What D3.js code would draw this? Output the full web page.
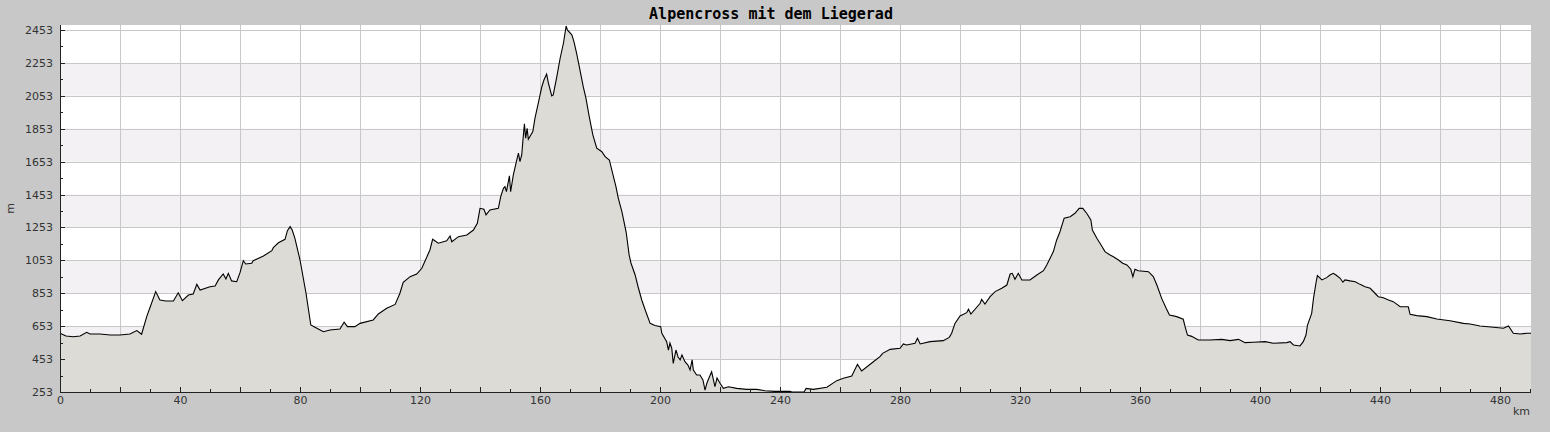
<!DOCTYPE html>
<html>
<head>
<meta charset="utf-8">
<script src="https://cdn.jsdelivr.net/npm/d3@7"></script>
<style>
html,body{margin:0;padding:0;background:#c8c8c8;}
svg{display:block;}
</style>
</head>
<body>
<svg id="chart" width="1550" height="432"></svg>
<script>
const title = "Alpencross mit dem Liegerad";
const xAxisLabel = "km";
const yAxisLabel = "m";

const distanceKm = [0,2,4.4,6.7,8.9,10,13.3,16.7,20,23.3,25.6,27.2,28.9,30.3,31.9,33.3,35.3,37.8,39.4,40.8,42.8,44.4,45.6,46.7,50,51.7,52.8,54.4,55.3,56.1,57.2,58.9,60,61.1,61.9,63.9,64.4,67.8,70.6,71.1,72.8,75,75.8,76.7,77.4,78.3,80,82,83.6,85.6,87.8,90,93.3,94.7,95.8,98.3,100,104.4,106.1,108.9,111.7,113.3,114.4,116.7,118.9,120.6,123.3,124.2,126.1,128.9,130,130.6,132.8,135.6,137.8,139.1,140,141.3,142,143.3,146.1,146.9,147.8,148.3,148.8,149.8,150.2,151.1,152,152.8,153.3,153.9,154.4,154.8,155.2,155.7,156.1,157.6,158.3,159.4,160.6,161.3,162.2,162.8,163.9,164.4,165.6,166.7,167.8,168.7,169.1,170.6,171.3,172.2,173.3,174.4,175.3,176.4,177.6,178.9,180.6,181.7,183.1,184.2,185.3,186.1,187.3,188.7,189.7,190.3,191.7,192.7,193.9,195.3,196.7,198.3,200.2,200.6,202.2,202.8,203.3,203.9,204.4,205.3,206,206.7,207.3,208.3,209.3,210,210.7,211.1,212.2,213.3,214.3,215,215.6,216.3,217.2,218.3,219,220,221.1,222.8,225.6,228.9,232.2,235,238.3,243.3,244,248,248.7,251.1,255.6,258.9,261.1,263.9,265.8,267.2,271.1,273.3,274.2,276.7,280,281.1,282.2,285,285.8,286.7,290,294.4,296.4,297.2,298.3,300,302.2,302.8,303.6,306.7,307.2,308.3,310,311.7,313.9,315.6,316.7,317.4,318.3,319.4,320.6,323.3,325.6,327.8,328.9,331.1,332.2,333.3,334.7,336.7,338.3,339.7,340.9,342.2,343.6,344.1,345.6,347,348.3,350,351.1,352.8,354.2,355.6,356.9,357.6,358.3,359.4,362.8,364.4,365.6,367.2,368.7,369.8,372.2,374.4,375,375.8,377.2,379.4,383.3,387.2,390,392.8,395,397.8,401.7,404.4,408.9,410,411.1,413.3,414.4,415.3,415.8,417.2,417.8,418.7,419.1,420.6,422.2,423.3,424.4,425.3,426.7,427.6,428.3,430,431.7,433.3,435,436.7,438.3,439.4,441.1,442.8,444.4,446.7,449.4,450,452.2,455.6,458.9,463.3,467.8,470,473.3,477.8,481.1,482.8,484.4,486.7,488.9,490.3];

const elevationM = [610,593,589,593,616,605,605,599,599,605,626,604,711,782,863,812,806,806,856,808,842,849,907,873,893,897,934,970,940,974,928,923,978,1051,1031,1035,1051,1079,1112,1130,1160,1181,1233,1258,1237,1187,1055,853,660,640,619,630,636,677,650,650,670,691,727,762,785,853,920,954,970,1005,1116,1181,1157,1172,1201,1166,1197,1207,1237,1278,1369,1363,1329,1359,1369,1440,1491,1501,1470,1566,1470,1572,1643,1704,1653,1693,1804,1882,1795,1855,1789,1835,1916,2007,2108,2149,2185,2129,2052,2058,2169,2281,2372,2477,2453,2423,2382,2311,2210,2108,2038,1926,1815,1734,1713,1683,1663,1582,1501,1430,1347,1225,1086,1037,964,891,812,739,670,657,650,610,559,508,551,519,427,508,466,448,478,437,417,387,448,387,356,356,326,265,306,338,376,285,338,306,275,285,275,269,269,261,257,257,253,253,275,269,282,322,336,350,421,381,437,468,488,512,519,545,539,549,579,545,559,565,585,610,670,715,735,756,727,792,816,788,832,863,883,903,970,974,938,974,934,934,964,990,1025,1106,1177,1227,1309,1318,1339,1369,1369,1339,1298,1237,1187,1146,1106,1086,1075,1055,1035,1025,999,954,999,990,984,954,903,822,762,721,711,695,650,599,591,569,569,573,565,573,553,555,559,549,553,559,539,533,559,599,660,731,822,923,960,934,948,964,974,964,944,920,934,928,923,907,893,883,853,832,826,812,802,771,771,725,717,711,697,686,670,666,654,646,640,654,610,605,610,610];

const xLabelTicks = [0,40,80,120,160,200,240,280,320,360,400,440,480];
const xGridTicks = [20,40,60,80,100,120,140,160,180,200,220,240,260,280,300,320,340,360,380,400,420,440,460,480];
const xMinorTicks = [10,30,50,70,90,110,130,150,170,190,210,230,250,270,290,310,330,350,370,390,410,430,450,470,490];
const yTicks = [253,453,653,853,1053,1253,1453,1653,1853,2053,2253,2453];
const yMinorTicks = [353,553,753,953,1153,1353,1553,1753,1953,2153,2353];
const xDomain = [0, 490.3];
const yDomain = [253, 2483];

const data = distanceKm.map((d,i)=>({km:d, m:elevationM[i]}));

const margin = {left:60, top:25, right:19, bottom:40};
const W = 1550, H = 432;
const svg = d3.select("#chart");

const x = d3.scaleLinear().domain(xDomain).range([margin.left, W - margin.right]);
const y = d3.scaleLinear().domain(yDomain).range([H - margin.bottom, margin.top]);

const x0 = x.range()[0], x1 = x.range()[1];
const yb = y.range()[0], yt = y.range()[1];

// plot background
svg.append("rect").attr("x", x0).attr("y", yt).attr("width", x1 - x0).attr("height", yb - yt).attr("fill", "#ffffff");

// alternating bands
for (let i = 1; i < yTicks.length - 1; i += 2) {
  svg.append("rect")
    .attr("x", x0).attr("width", x1 - x0)
    .attr("y", y(yTicks[i+1])).attr("height", y(yTicks[i]) - y(yTicks[i+1]))
    .attr("fill", "#f3f1f4");
}

// grid
const grid = svg.append("g").attr("stroke", "#c8c8c8").attr("stroke-width", 1).attr("shape-rendering", "crispEdges");
xGridTicks.forEach(t => grid.append("line").attr("x1", Math.round(x(t))+0.5).attr("x2", Math.round(x(t))+0.5).attr("y1", yt).attr("y2", yb));
yTicks.forEach(t => grid.append("line").attr("x1", x0).attr("x2", x1).attr("y1", Math.round(y(t))+0.5).attr("y2", Math.round(y(t))+0.5));

// area + line
const area = d3.area().x(d => x(d.km)).y0(yb).y1(d => y(d.m));
const line = d3.line().x(d => x(d.km)).y(d => y(d.m));
svg.append("path").datum(data).attr("d", area).attr("fill", "#dcdbd6");
svg.append("path").datum(data).attr("d", line).attr("fill", "none").attr("stroke", "#000").attr("stroke-width", 1.1);

// axes
const font = "DejaVu Sans, sans-serif";
const yAxis = d3.axisLeft(y).tickValues(yTicks).tickSize(0).tickPadding(7).tickFormat(d3.format("d"));
const gy = svg.append("g").attr("transform", `translate(${x0},0)`).call(yAxis);
gy.select(".domain").remove();
gy.selectAll("text").attr("font-family", font).attr("font-size", 11).attr("fill", "#333");

const xAxis = d3.axisBottom(x).tickValues(xLabelTicks).tickSize(0).tickPadding(4).tickFormat(d3.format("d"));
const gx = svg.append("g").attr("transform", `translate(0,${yb})`).call(xAxis);
gx.select(".domain").remove();
gx.selectAll("text").attr("font-family", font).attr("font-size", 11).attr("fill", "#333");

// tick marks (inside)
const tk = svg.append("g").attr("stroke", "#222").attr("stroke-width", 1).attr("shape-rendering", "crispEdges");
yTicks.forEach(t => tk.append("line").attr("x1", x0).attr("x2", x0 + 5).attr("y1", Math.round(y(t))+0.5).attr("y2", Math.round(y(t))+0.5));
yMinorTicks.forEach(t => tk.append("line").attr("x1", x0).attr("x2", x0 + 3).attr("y1", Math.round(y(t))+0.5).attr("y2", Math.round(y(t))+0.5));
xGridTicks.forEach(t => tk.append("line").attr("x1", Math.round(x(t))+0.5).attr("x2", Math.round(x(t))+0.5).attr("y1", yb).attr("y2", yb - 5));
xMinorTicks.forEach(t => tk.append("line").attr("x1", Math.round(x(t))+0.5).attr("x2", Math.round(x(t))+0.5).attr("y1", yb).attr("y2", yb - 3));

// axis lines
svg.append("line").attr("x1", x0+0.5).attr("x2", x0+0.5).attr("y1", yt).attr("y2", yb+0.5).attr("stroke", "#222").attr("stroke-width", 1.5).attr("shape-rendering", "crispEdges");
svg.append("line").attr("x1", x0).attr("x2", x1).attr("y1", yb+0.5).attr("y2", yb+0.5).attr("stroke", "#222").attr("stroke-width", 1.5).attr("shape-rendering", "crispEdges");

// axis titles
svg.append("text").attr("transform", `translate(14,${(yt+yb)/2}) rotate(-90)`).attr("text-anchor", "middle")
  .attr("font-family", font).attr("font-size", 11).attr("fill", "#333").text(yAxisLabel);
svg.append("text").attr("x", x1 - 1).attr("y", 415).attr("text-anchor", "end")
  .attr("font-family", font).attr("font-size", 11).attr("fill", "#333").text(xAxisLabel);

// title
svg.append("text").attr("x", 771).attr("y", 19).attr("text-anchor", "middle")
  .attr("font-family", "DejaVu Sans Mono, monospace").attr("font-weight", "bold").attr("font-size", 15).attr("fill", "#000").text(title);
</script>
</body>
</html>
